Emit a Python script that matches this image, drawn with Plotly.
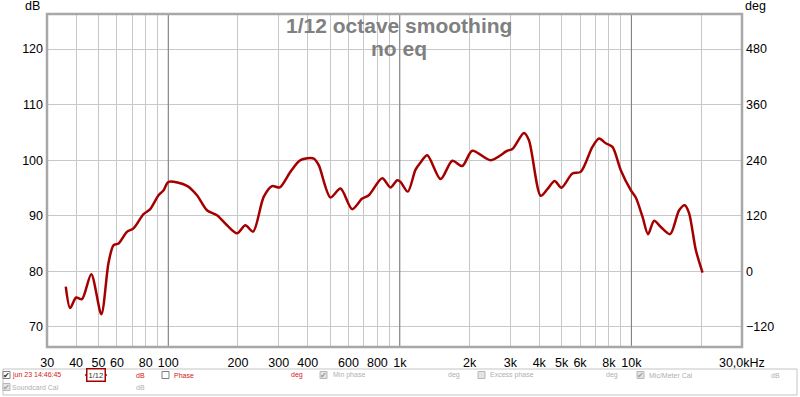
import plotly.graph_objects as go
import math

# ---------------- data ----------------
freq_hz = [36.1, 37.7, 40.0, 42.4, 46.5, 51.4, 55.2, 58.0, 61.0, 66.3, 70.8, 78.2, 83.6, 90.8,
           95.5, 100.3, 120.5, 133.1, 147.0, 162.4, 179.4, 198.2, 215.3, 232.5, 258.3, 280.8,
           302.9, 336.9, 372.3, 425.0, 446.6, 501.8, 554.4, 622.8, 688.1, 734.7, 839.5, 911.6,
           974.6, 1007, 1083, 1169, 1229, 1314, 1500, 1685, 1861, 2056, 2467, 2913, 3062, 3436,
           3611, 4058, 4337, 4664, 4986, 5562, 6043, 6788, 7250, 7750, 8285, 8999, 9941, 10448,
           11166, 11807, 12533, 13396, 14697, 16073, 17012, 17756, 18980, 20290]
spl_db = [77.25, 73.4, 75.3, 75.0, 79.5, 72.3, 81.5, 84.7, 85.0, 87.1, 87.75, 90.3, 91.2, 93.7,
          94.6, 96.1, 95.4, 93.7, 91.0, 90.1, 88.3, 86.85, 88.3, 87.15, 93.4, 95.35,
          95.1, 97.9, 100.0, 100.3, 99.1, 93.3, 94.9, 91.2, 93.1, 93.7, 96.75, 95.1,
          96.4, 96.1, 94.35, 98.3, 99.6, 100.9, 96.6, 99.9, 98.95, 101.7, 100.0, 101.7, 102.0, 104.9,
          103.6, 93.6, 94.8, 96.25, 95.05, 97.6, 97.9, 102.4, 103.9, 103.05, 102.4, 98.2, 94.6, 93.3,
          89.85, 86.7, 89.1, 88.0, 86.7, 91.0, 91.9, 90.45, 83.85, 79.8]

x_grid = [30, 40, 50, 60, 70, 80, 90, 100, 200, 300, 400, 500, 600, 700, 800, 900, 1000,
          2000, 3000, 4000, 5000, 6000, 7000, 8000, 9000, 10000, 20000, 30000]
x_labels = ["30", "40", "50", "60", "", "80", "", "100", "200", "300", "400", "", "600", "",
            "800", "", "1k", "2k", "3k", "4k", "5k", "6k", "", "8k", "", "10k", "", "30,0kHz"]
x_major = [100, 1000, 10000]
y_ticks = [70, 80, 90, 100, 110, 120]
deg_ticks = [-120, 0, 120, 240, 360, 480]

Y_MIN, Y_MAX = 66.4, 126.3
X_MIN, X_MAX = 29.95, 30040

# ---------------- layout helpers ----------------
L, R, T, B = 47, 742, 14, 347
W, H = 800, 397


def px(x):
    return (x - L) / (R - L)


def py(y):
    return (B - y) / (B - T)


fig = go.Figure()

for f in x_major:
    fig.add_trace(go.Scatter(x=[f, f], y=[Y_MIN, Y_MAX], mode="lines",
                             line=dict(color="#7a7a7a", width=1), hoverinfo="skip",
                             showlegend=False))

fig.add_trace(go.Scatter(x=freq_hz, y=spl_db, mode="lines",
                         line=dict(color="#a50000", width=2.5, shape="spline", smoothing=0.8),
                         showlegend=False))

# invisible trace to anchor right axis
fig.add_trace(go.Scatter(x=[100], y=[0], yaxis="y2", mode="markers",
                         marker=dict(opacity=0), hoverinfo="skip", showlegend=False))

font_fam = "Liberation Sans, Arial, sans-serif"

fig.update_layout(
    width=W, height=H,
    margin=dict(l=L, r=W - R, t=T, b=H - B, autoexpand=False),
    paper_bgcolor="white", plot_bgcolor="white",
    font=dict(family=font_fam, color="black"),
    xaxis=dict(type="log", range=[math.log10(X_MIN), math.log10(X_MAX)],
               tickmode="array", tickvals=x_grid, ticktext=x_labels,
               showgrid=True, gridcolor="#c8c8c8", gridwidth=1, zeroline=False,
               ticks="", ticklabelstandoff=6, tickfont=dict(size=12.5), showline=False,
               automargin=False),
    yaxis=dict(range=[Y_MIN, Y_MAX], tickmode="array", tickvals=y_ticks,
               showgrid=True, gridcolor="#c8c8c8", gridwidth=1, zeroline=False,
               ticks="", ticklabelstandoff=3, tickfont=dict(size=12.5), showline=False,
               automargin=False),
    yaxis2=dict(overlaying="y", side="right",
                range=[(Y_MIN - 80) * 12, (Y_MAX - 80) * 12],
                tickmode="array", tickvals=deg_ticks, showgrid=False, zeroline=False,
                ticks="", ticklabelstandoff=3, tickfont=dict(size=12.5), showline=False,
                automargin=False),
)

shapes = []
# plot frame
shapes.append(dict(type="rect", xref="paper", yref="paper", x0=0, x1=1, y0=0, y1=1,
                   line=dict(color="#a8a8a8", width=2.5), layer="above"))
# legend box
shapes.append(dict(type="rect", xref="paper", yref="paper", x0=px(3), x1=px(797),
                   y0=py(395), y1=py(369), line=dict(color="#c4c4c4", width=1)))

annotations = []
annotations.append(dict(text="1/12 octave smoothing", x=px(399), y=py(26), xref="paper",
                        yref="paper", showarrow=False, xanchor="center", yanchor="middle",
                        font=dict(size=21, color="#808080", family=font_fam, weight="bold")))
annotations.append(dict(text="no eq", x=px(399), y=py(48), xref="paper",
                        yref="paper", showarrow=False, xanchor="center", yanchor="middle",
                        font=dict(size=21, color="#808080", family=font_fam, weight="bold")))
annotations.append(dict(text="dB", x=px(32), y=py(6), xref="paper", yref="paper",
                        showarrow=False, xanchor="center", yanchor="middle",
                        font=dict(size=12.5, color="black")))
annotations.append(dict(text="deg", x=px(755), y=py(6), xref="paper", yref="paper",
                        showarrow=False, xanchor="center", yanchor="middle",
                        font=dict(size=12.5, color="black")))

RED = "#d42020"
GREY = "#b0b0b0"


def checkbox(x, y, checked, active):
    shapes.append(dict(type="rect", xref="paper", yref="paper", x0=px(x), x1=px(x + 7),
                       y0=py(y + 3.5), y1=py(y - 3.5),
                       line=dict(color="#808080" if active else "#b8b8b8", width=1),
                       fillcolor="white" if active else "#e4e4e4"))
    if checked:
        annotations.append(dict(text="✔", x=px(x + 3.5), y=py(y), xref="paper", yref="paper",
                                showarrow=False, xanchor="center", yanchor="middle",
                                font=dict(size=8, color="#303030" if active else "#a0a0a0")))


def label(x, y, text, color):
    annotations.append(dict(text=text, x=px(x), y=py(y), xref="paper", yref="paper",
                            showarrow=False, xanchor="left", yanchor="middle",
                            font=dict(size=7, color=color)))


r1, r2 = 375, 387
checkbox(3, r1, True, True)
label(10, r1, "jun 23 14:46:45", RED)
shapes.append(dict(type="line", xref="paper", yref="paper", x0=px(85), x1=px(107),
                   y0=py(r1), y1=py(r1), line=dict(color="#a50000", width=1.5)))
annotations.append(dict(text="1/12", x=px(96), y=py(r1), xref="paper", yref="paper",
                        showarrow=False, xanchor="center", yanchor="middle",
                        bgcolor="white", bordercolor="#a50000", borderwidth=1.5, borderpad=1,
                        font=dict(size=7.5, color="#303030")))
label(134, r1, "dB", RED)
checkbox(162, r1, False, True)
label(172, r1, "Phase", RED)
label(289, r1, "deg", RED)
checkbox(320, r1, True, False)
label(331, r1, "Min phase", GREY)
label(446, r1, "deg", GREY)
checkbox(478, r1, False, False)
label(488, r1, "Excess phase", GREY)
label(604, r1, "deg", GREY)
checkbox(637, r1, True, False)
label(647, r1, "Mic/Meter Cal", GREY)
label(769, r1, "dB", GREY)
checkbox(3, r2, True, False)
label(10, r2, "Soundcard Cal", GREY)
label(134, r2, "dB", GREY)

fig.update_layout(shapes=shapes, annotations=annotations)

fig.write_html("out.html", config={"displayModeBar": False},
               post_script="document.body.style.margin='0';document.body.style.padding='0';"
                           "document.body.style.overflow='hidden';")
